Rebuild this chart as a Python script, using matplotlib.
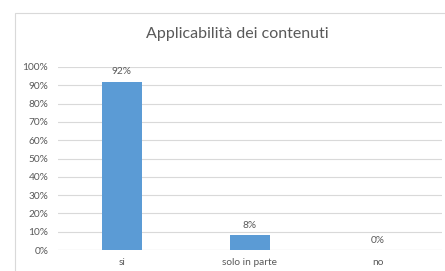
import matplotlib.pyplot as plt
from matplotlib.patches import Rectangle
from matplotlib.ticker import PercentFormatter

categories = ["si", "solo in parte", "no"]
values = [92, 8, 0]
value_labels = ["92%", "8%", "0%"]

plt.rcParams["font.family"] = ["Lato", "DejaVu Sans"]

fig = plt.figure(figsize=(4.45, 2.71), dpi=100)
fig.patch.set_facecolor("white")

# chart frame
fig.patches.append(Rectangle((15 / 445, -0.05), 1.0, 1 - 13 / 271 + 0.05,
                             transform=fig.transFigure, fill=False,
                             edgecolor="#D9D9D9", linewidth=0.8))

ax = fig.add_axes([58 / 445, 1 - 250 / 271, 384 / 445, 183 / 271])
x = range(len(categories))
ax.bar(x, values, width=0.31, color="#5B9BD5", zorder=3)

for xi, v, lab in zip(x, values, value_labels):
    ax.text(xi, v + 3, lab, ha="center", va="bottom", fontsize=7.3, color="#595959")

ax.set_xlim(-0.5, 2.5)
ax.set_ylim(0, 100)
ax.set_yticks(range(0, 101, 10))
ax.yaxis.set_major_formatter(PercentFormatter(decimals=0))
ax.set_xticks(list(x))
ax.set_xticklabels(categories)
ax.tick_params(axis="both", length=0, labelsize=7.3, colors="#595959")
ax.tick_params(axis="y", pad=7)
ax.tick_params(axis="x", pad=6)
ax.grid(axis="y", color="#D9D9D9", linewidth=0.8, zorder=0)
for s in ax.spines.values():
    s.set_visible(False)
ax.axhline(0, color="#D9D9D9", linewidth=0.8, zorder=2)

fig.text(237 / 445, 1 - 34 / 271, "Applicabilità dei contenuti", ha="center", va="center",
         fontsize=11.5, color="#595959")

fig.savefig("out.png", dpi=100)
